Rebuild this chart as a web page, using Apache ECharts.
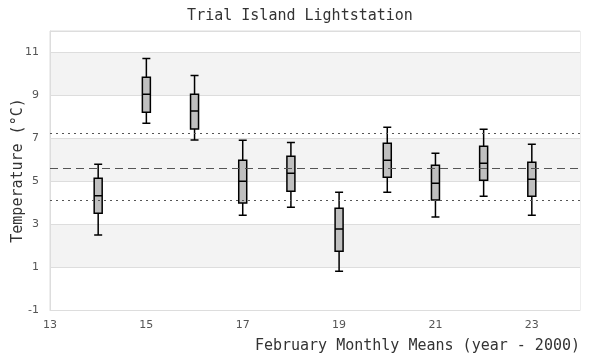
<!DOCTYPE html>
<html>
<head>
<meta charset="utf-8">
<script src="https://cdn.jsdelivr.net/npm/echarts@6/dist/echarts.min.js"></script>
<style>html,body{margin:0;padding:0;background:#fff}#c{width:600px;height:360px}</style>
</head>
<body>
<div id="c"></div>
<script>
var categories = ['13','14','15','16','17','18','19','20','21','22','23','24'];
var years   = ['14','15','16','17','18','19','20','21','22','23'];
var mins    = [2.49, 7.70, 6.92, 3.42, 3.79, 0.81, 4.49, 3.33, 4.30, 3.42];
var q1s     = [3.51, 8.21, 7.43, 3.98, 4.53, 1.74, 5.19, 4.12, 5.05, 4.30];
var medians = [4.32, 9.05, 8.27, 5.00, 5.37, 2.78, 5.98, 4.91, 5.84, 5.09];
var q3s     = [5.14, 9.84, 9.05, 5.98, 6.16, 3.74, 6.77, 5.74, 6.63, 5.88];
var maxs    = [5.79, 10.72, 9.93, 6.91, 6.81, 4.49, 7.51, 6.30, 7.42, 6.72];
var meanLine = 5.60;
var upperLine = 7.23;
var lowerLine = 4.12;

var boxData = years.map(function (y, i) {
  return [y, mins[i], q1s[i], medians[i], q3s[i], maxs[i]];
});

var chart = echarts.init(document.getElementById('c'), null, {renderer: 'canvas'});
var mono = '"DejaVu Sans Mono", "Liberation Mono", monospace';
chart.setOption({
  animation: false,
  backgroundColor: '#fff',
  title: {
    text: 'Trial Island Lightstation',
    left: 'center', top: 4,
    textStyle: {fontFamily: mono, fontSize: 15, fontWeight: 'normal', color: '#333'}
  },
  grid: {left: 50, right: 20, top: 31, bottom: 50, containLabel: false, outerBoundsMode: 'none',
    show: true, borderColor: '#ddd', borderWidth: 1, backgroundColor: 'transparent'},
  xAxis: {
    type: 'category',
    data: categories,
    boundaryGap: false,
    name: 'February Monthly Means (year - 2000)',
    nameLocation: 'end',
    nameGap: 0,
    nameMoveOverlap: false,
    nameTextStyle: {fontFamily: mono, fontSize: 15, color: '#333', align: 'right', verticalAlign: 'top', padding: [29, 0, 0, 0]},
    axisLine: {show: true, onZero: false, lineStyle: {color: '#ddd'}},
    axisTick: {show: false},
    axisLabel: {interval: 1, color: '#555', fontSize: 11, fontFamily: '"DejaVu Sans", sans-serif', margin: 10},
    splitLine: {show: false}
  },
  yAxis: {
    type: 'value',
    min: -1, max: 12, interval: 2,
    name: 'Temperature (°C)',
    nameLocation: 'middle',
    nameGap: 24,
    nameMoveOverlap: false,
    nameTextStyle: {fontFamily: mono, fontSize: 15, color: '#333'},
    axisLine: {show: true, lineStyle: {color: '#ddd'}},
    axisTick: {show: false},
    axisLabel: {color: '#555', fontSize: 11, fontFamily: '"DejaVu Sans", sans-serif', margin: 11,
      formatter: function (v) { return v === 12 ? '' : String(v); }},
    splitLine: {show: true, lineStyle: {color: '#ddd', width: 1}},
    splitArea: {show: true, areaStyle: {color: ['#ffffff', '#f3f3f3']}}
  },
  series: [{
    type: 'boxplot',
    data: boxData,
    encode: {x: 0, y: [1, 2, 3, 4, 5]},
    boxWidth: [8, 8],
    itemStyle: {color: '#bfbfbf', borderColor: '#000', borderWidth: 1.5},
    markLine: {
      silent: true,
      symbol: 'none',
      label: {show: false},
      data: [
        {yAxis: upperLine, lineStyle: {type: [2, 4], color: '#555', width: 1.2}},
        {yAxis: meanLine, lineStyle: {type: [8, 5], color: '#555', width: 1.2}},
        {yAxis: lowerLine, lineStyle: {type: [2, 4], color: '#555', width: 1.2}}
      ]
    }
  }]
});
</script>
</body>
</html>
